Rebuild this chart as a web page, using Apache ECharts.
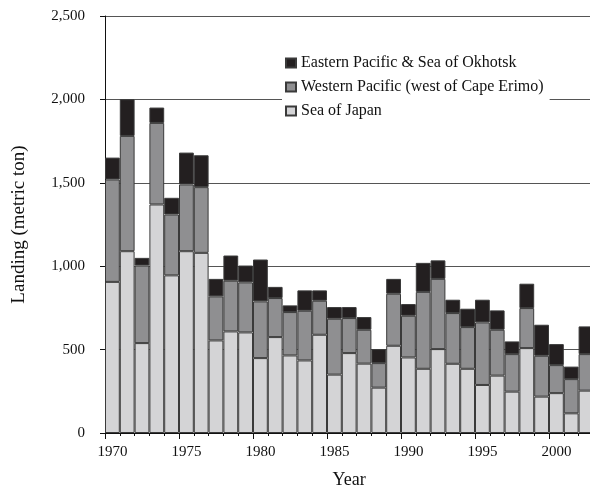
<!DOCTYPE html>
<html>
<head>
<meta charset="utf-8">
<script src="https://cdn.jsdelivr.net/npm/echarts@6/dist/echarts.min.js"></script>
<style>html,body{margin:0;padding:0;background:#fff}#c{width:590px;height:488px}</style>
</head>
<body>
<div id="c"></div>
<script>
var years = ['1970','1971','1972','1973','1974','1975','1976','1977','1978','1979','1980','1981','1982','1983','1984','1985','1986','1987','1988','1989','1990','1991','1992','1993','1994','1995','1996','1997','1998','1999','2000','2001','2002'];
var seaOfJapan = [906,1090,539,1370,945,1090,1080,555,609,603,449,575,465,435,589,350,479,416,272,523,453,385,503,415,385,288,344,248,509,218,239,118,254];
var westernPacific = [614,691,465,489,365,400,394,264,304,300,340,234,260,298,204,335,210,203,147,312,250,461,421,304,250,375,275,225,240,245,168,205,219];
var easternPacific = [131,220,46,92,100,191,191,105,151,101,251,67,40,122,62,70,66,76,84,89,70,174,111,80,110,136,116,76,146,186,126,75,166];
var yTicks = [0,500,1000,1500,2000,2500];

var FONT = 'Liberation Serif';
var chart = echarts.init(document.getElementById('c'));
var border = {borderColor:'#3a3a3a', borderWidth:1};
chart.setOption({
  animation:false,
  backgroundColor:'#fff',
  grid:{left:105, top:16, width:488.4, height:417, containLabel:false, outerBoundsMode:'none'},
  legend:{
    orient:'vertical', left:282, top:52, padding:[3,6,3,3],
    backgroundColor:'#fff',
    itemWidth:10, itemHeight:9, itemGap:8,
    icon:'rect',
    textStyle:{fontFamily:FONT, fontSize:16, color:'#111'},
    data:['Eastern Pacific & Sea of Okhotsk','Western Pacific (west of Cape Erimo)','Sea of Japan']
  },
  xAxis:[{
    type:'category', data:years, position:'bottom',
    name:'Year', nameLocation:'middle', nameGap:38,
    nameTextStyle:{fontFamily:FONT, fontSize:18, color:'#111'},
    axisLine:{lineStyle:{color:'#111', width:1}},
    axisTick:{show:true, interval:0, length:3, lineStyle:{color:'#111'}},
    axisLabel:{interval:4, margin:12, fontFamily:FONT, fontSize:15, color:'#111'},
    splitLine:{show:false}
  },{
    type:'category', data:years, position:'bottom',
    axisLine:{show:false},
    axisTick:{show:true, interval:4, length:6, lineStyle:{color:'#111'}},
    axisLabel:{show:false},
    splitLine:{show:false}
  }],
  yAxis:{
    type:'value', min:0, max:2500, interval:500,
    name:'Landing (metric ton)', nameLocation:'middle', nameGap:76, nameRotate:90,
    nameTextStyle:{fontFamily:FONT, fontSize:19, color:'#111'},
    axisLine:{show:true, lineStyle:{color:'#111', width:1}},
    axisTick:{show:true, length:5, lineStyle:{color:'#111'}},
    axisLabel:{margin:20, fontFamily:FONT, fontSize:15, color:'#111',
      formatter:function(v){return v.toLocaleString('en-US');}},
    splitLine:{show:true, lineStyle:{color:'#555', width:1}}
  },
  series:[
    {name:'Sea of Japan', type:'bar', stack:'t', data:seaOfJapan, barCategoryGap:'0%',
     itemStyle:Object.assign({color:'#d4d4d6'}, border)},
    {name:'Western Pacific (west of Cape Erimo)', type:'bar', stack:'t', data:westernPacific, barCategoryGap:'0%',
     itemStyle:Object.assign({color:'#8f8f91'}, border)},
    {name:'Eastern Pacific & Sea of Okhotsk', type:'bar', stack:'t', data:easternPacific, barCategoryGap:'0%',
     itemStyle:Object.assign({color:'#231f20'}, border)}
  ]
});
</script>
</body>
</html>
